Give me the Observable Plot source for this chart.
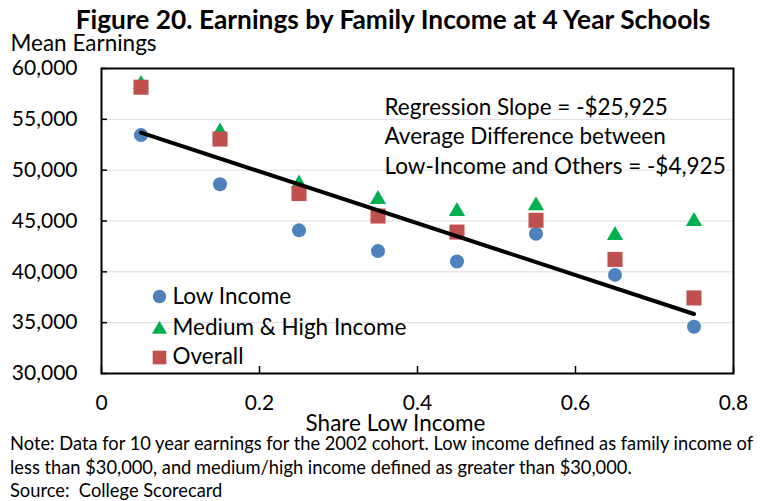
<!DOCTYPE html>
<html>
<head>
<meta charset="utf-8">
<script src="https://cdn.jsdelivr.net/npm/d3@7"></script>
<script src="https://cdn.jsdelivr.net/npm/@observablehq/plot@0.6"></script>
<style>
  html, body { margin: 0; padding: 0; background: white; }
  #wrap { width: 762px; height: 501px; overflow: hidden; font-family: Lato, sans-serif; color: black; }
  .title { height: 34px; box-sizing: border-box; padding-top: 6px; padding-left: 24px; text-align: center; font-weight: bold; font-size: 26.3px; line-height: 1; white-space: nowrap; }
  .notes { margin-top: -3px; padding-left: 10px; font-size: 18.3px; line-height: 23.5px; white-space: nowrap; }
  .notes div { height: 23.5px; }
</style>
</head>
<body>
<div id="wrap">
  <div class="title">Figure 20. Earnings by Family Income at 4 Year Schools</div>
  <div id="chart"></div>
  <div class="notes">
    <div>Note: Data for 10 year earnings for the 2002 cohort. Low income defined as family income of</div>
    <div>less than $30,000, and medium/high income defined as greater than $30,000.</div>
    <div>Source:&nbsp; College Scorecard</div>
  </div>
</div>
<script>
const shareLow = [0.05, 0.15, 0.25, 0.35, 0.45, 0.55, 0.65, 0.75];
const lowIncome = [53450, 48620, 44080, 42040, 41020, 43750, 39700, 34600];
const medHighIncome = [58450, 53760, 48660, 47120, 45960, 46520, 43600, 44970];
const overall = [58160, 53060, 47700, 45490, 43910, 45070, 41220, 37430];
const regX = [0.05, 0.75];
const regY = [53700, 35850];
const yTicks = [30000, 35000, 40000, 45000, 50000, 55000, 60000];
const xTicks = [0, 0.2, 0.4, 0.6, 0.8];
const seriesNames = ["Low Income", "Medium & High Income", "Overall"];
const annotation = ["Regression Slope = -$25,925", "Average Difference between", "Low-Income and Others = -$4,925"];

const colors = {low: "#4f81bd", med: "#00b050", all: "#c0504d"};
const lowData = shareLow.map((x, i) => ({x, y: lowIncome[i]}));
const medData = shareLow.map((x, i) => ({x, y: medHighIncome[i]}));
const allData = shareLow.map((x, i) => ({x, y: overall[i]}));
const regData = regX.map((x, i) => ({x, y: regY[i]}));
const fmt = d3.format(",");
const FS = 22.5;

const chart = Plot.plot({
  width: 762,
  height: 401,
  marginTop: 34,
  marginLeft: 101,
  marginRight: 29,
  marginBottom: 62,
  style: {fontFamily: "Lato, sans-serif", fontSize: "21px", color: "black", background: "white", overflow: "visible"},
  x: {domain: [0, 0.8]},
  y: {domain: [30000, 60000]},
  marks: [
    Plot.gridY(yTicks.slice(1, -1), {stroke: "#dcdcdc", strokeOpacity: 1, strokeWidth: 1}),
    Plot.dot(lowData, {x: "x", y: "y", symbol: "circle", r: 7, fill: colors.low}),
    Plot.dot(medData, {x: "x", y: "y", symbol: "triangle", r: 6, fill: colors.med}),
    Plot.dot(allData, {x: "x", y: "y", symbol: "square", r: 8.5, fill: colors.all}),
    Plot.line(regData, {x: "x", y: "y", stroke: "black", strokeWidth: 4}),
    Plot.frame({stroke: "black", strokeWidth: 2}),
    Plot.axisY({ticks: yTicks, tickFormat: fmt, tickSize: -6, tickPadding: 30, fontSize: 21, label: null, strokeWidth: 1.5}),
    Plot.axisX({ticks: xTicks, tickFormat: d => String(d), tickSize: -7, tickPadding: 29, fontSize: 21, label: null, strokeWidth: 1.5}),
    Plot.text([seriesNames[0]], {text: d => d, frameAnchor: "bottom-left", dx: 71, dy: -77.2, textAnchor: "start", lineAnchor: "middle", fontSize: FS}),
    Plot.text([seriesNames[1]], {text: d => d, frameAnchor: "bottom-left", dx: 71, dy: -45.6, textAnchor: "start", lineAnchor: "middle", fontSize: FS}),
    Plot.text([seriesNames[2]], {text: d => d, frameAnchor: "bottom-left", dx: 71, dy: -16.9, textAnchor: "start", lineAnchor: "middle", fontSize: FS}),
    Plot.dot([seriesNames[0]], {frameAnchor: "bottom-left", dx: 58, dy: -77, symbol: "circle", r: 6.7, fill: colors.low}),
    Plot.dot([seriesNames[1]], {frameAnchor: "bottom-left", dx: 58, dy: -44, symbol: "triangle", r: 5.6, fill: colors.med}),
    Plot.dot([seriesNames[2]], {frameAnchor: "bottom-left", dx: 58, dy: -16, symbol: "square", r: 7.7, fill: colors.all}),
    Plot.text([annotation.join("\n")], {text: d => d, frameAnchor: "top-left", dx: 283, dy: 25.3, textAnchor: "start", lineAnchor: "top", lineHeight: 1.311, fontSize: FS}),
    Plot.text(["Mean Earnings"], {text: d => d, frameAnchor: "top-left", dx: -91, dy: -24.5, textAnchor: "start", lineAnchor: "middle", fontSize: FS}),
    Plot.text(["Share Low Income"], {text: d => d, frameAnchor: "bottom", dx: -22, dy: 50, textAnchor: "middle", lineAnchor: "middle", fontSize: FS})
  ]
});
document.getElementById("chart").appendChild(chart);
</script>
</body>
</html>
